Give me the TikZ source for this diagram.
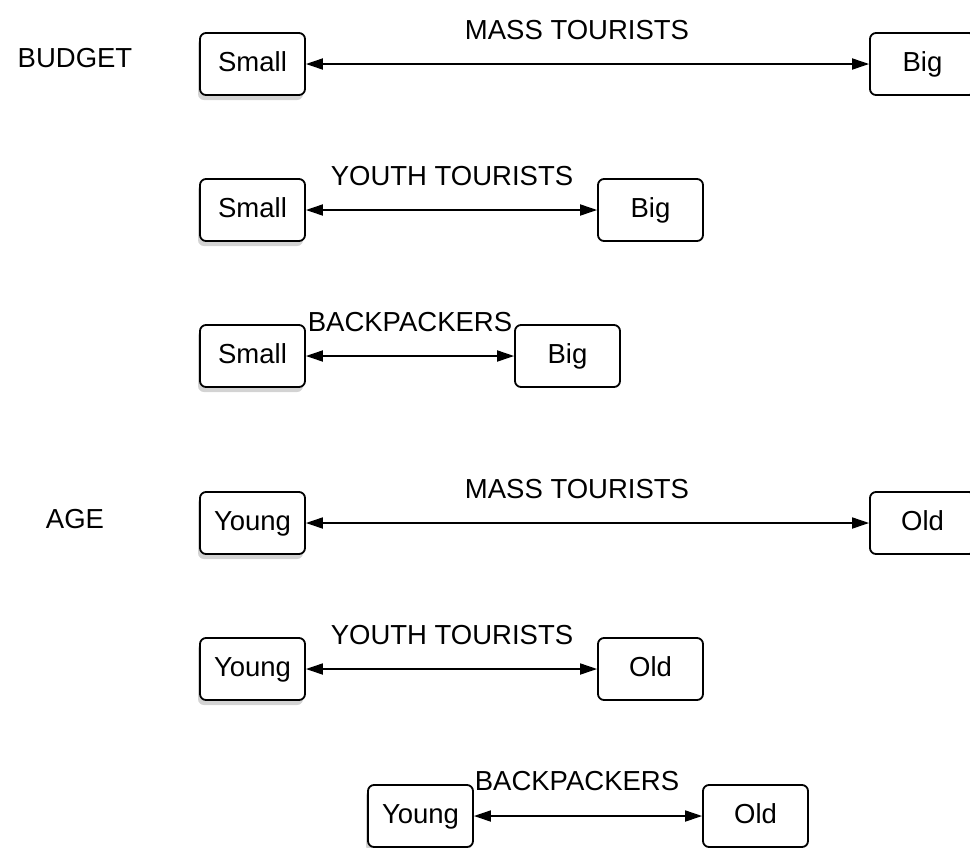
\documentclass[tikz,border=0pt]{standalone}
\usepackage{fontspec}
\setmainfont{Liberation Sans}
\usetikzlibrary{arrows.meta,shadows}

\begin{document}
\begin{tikzpicture}[x=1pt,y=-1pt,
	font=\fontsize{27.5}{32}\selectfont,
	box/.style={draw, line width=1.8pt, rounded corners=6pt, fill=white,
		minimum width=105pt, minimum height=62pt, inner sep=0pt,
		text height=20pt, text depth=5pt},
	shadowbox/.style={box, drop shadow={shadow xshift=-2pt, shadow yshift=-5pt, opacity=0.35}},
	spanarrow/.style={line width=1.8pt, {Triangle[length=17pt,width=11pt]}-{Triangle[length=17pt,width=11pt]}}]
	\useasboundingbox (0,0) rectangle (970,847);

	% budget
	\node at (75,58) {BUDGET};
	\node[shadowbox] (smallmass) at (252.5,64) {Small};
	\node[box] (bigmass) at (922.5,64) {Big};
	\draw[spanarrow] (smallmass) -- (bigmass);
	\node at (577,30) {MASS TOURISTS};

	\node[shadowbox] (smallyouth) at (252.5,210) {Small};
	\node[box] (bigyouth) at (650.5,210) {Big};
	\draw[spanarrow] (smallyouth) -- (bigyouth);
	\node at (452,176) {YOUTH TOURISTS};

	\node[shadowbox] (smallback) at (252.5,356) {Small};
	\node[box] (bigback) at (567.5,356) {Big};
	\draw[spanarrow] (smallback) -- (bigback);
	\node at (410,322) {BACKPACKERS};

	% age
	\node at (75,519) {AGE};
	\node[shadowbox] (youngmass) at (252.5,523) {Young};
	\node[box] (oldmass) at (922.5,523) {Old};
	\draw[spanarrow] (youngmass) -- (oldmass);
	\node at (577,489) {MASS TOURISTS};

	\node[shadowbox] (youngyouth) at (252.5,669) {Young};
	\node[box] (oldyouth) at (650.5,669) {Old};
	\draw[spanarrow] (youngyouth) -- (oldyouth);
	\node at (452,635) {YOUTH TOURISTS};

	\node[shadowbox] (youngback) at (420.5,816) {Young};
	\node[box] (oldback) at (755.5,816) {Old};
	\draw[spanarrow] (youngback) -- (oldback);
	\node at (577,781) {BACKPACKERS};
\end{tikzpicture}
\end{document}
